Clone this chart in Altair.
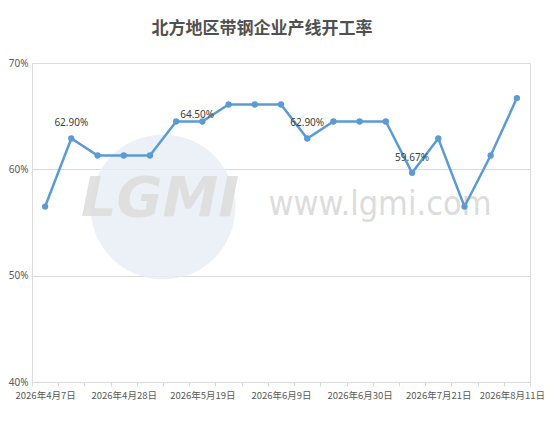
import json
import altair as alt
import pandas as pd

dates = ["2026年4月7日", "2026年4月14日", "2026年4月21日", "2026年4月28日",
         "2026年5月5日", "2026年5月12日", "2026年5月19日", "2026年5月26日",
         "2026年6月2日", "2026年6月9日", "2026年6月16日", "2026年6月23日",
         "2026年6月30日", "2026年7月7日", "2026年7月14日", "2026年7月21日",
         "2026年7月28日", "2026年8月4日", "2026年8月11日"]
rates = [56.5, 62.9, 61.3, 61.3, 61.3, 64.5, 64.5, 66.1, 66.1, 66.1,
         62.9, 64.5, 64.5, 64.5, 59.67, 62.9, 56.5, 61.3, 66.7]
shown_labels = dates[::3]
labeled_above = [1, 10, 14]
labeled_right = [5]

df = pd.DataFrame({
    "date": dates,
    "rate": [r / 100 for r in rates],
    "idx": list(range(len(dates))),
})

BLUE = "#5B9BD5"
FONT = "Noto Sans CJK SC"

label_expr = ("indexof(" + json.dumps(shown_labels, ensure_ascii=False)
              + ", datum.value) >= 0 ? datum.value : ''")
last_label = json.dumps(dates[-1], ensure_ascii=False)

x_enc = alt.X(
    "date:N", sort=dates,
    scale=alt.Scale(type="band", domain=dates, paddingInner=0, paddingOuter=0),
    bandPosition=0.5,
    axis=alt.Axis(title=None, labelAngle=0, tickBand="extent", labelExpr=label_expr,
                  labelOverlap=False, domainColor="#d9d9d9", tickColor="#d9d9d9",
                  tickSize=4, labelPadding=4, labelColor="#595959", labelFontSize=9.5,
                  labelFont=FONT, grid=False,
                  labelOffset={"condition": {"test": "datum.value == " + last_label, "value": -5},
                               "value": 0}),
)
y_enc = alt.Y(
    "rate:Q", scale=alt.Scale(domain=[0.4, 0.7]),
    axis=alt.Axis(title=None, format=".0%", values=[0.4, 0.5, 0.6, 0.7], domain=False,
                  ticks=False, gridColor="#d9d9d9", labelColor="#595959",
                  labelFontSize=10, labelPadding=4, labelFont="Noto Sans"),
)

base = alt.Chart(df)

# faint watermark (decoration)
wm_circle = alt.Chart(pd.DataFrame({"w": ["o"]})).mark_point(
    shape="circle", filled=True, color="#e6edf5", opacity=0.8, size=21000
).encode(x=alt.value(131), y=alt.value(144))
wm_logo = alt.Chart(pd.DataFrame({"w": ["LGMI"]})).mark_text(
    font="DejaVu Sans", fontSize=56, fontWeight="bold", fontStyle="italic",
    color="#dedede", opacity=0.9
).encode(text="w:N", x=alt.value(128), y=alt.value(136))
wm_site = alt.Chart(pd.DataFrame({"w": ["www.lgmi.com"]})).mark_text(
    font="DejaVu Sans Condensed", fontSize=34, color="#dcdcdc"
).encode(text="w:N", x=alt.value(348), y=alt.value(142))

line = base.mark_line(color=BLUE, strokeWidth=2.5).encode(x=x_enc, y=y_enc)
points = base.mark_point(filled=True, color=BLUE, size=40, opacity=1).encode(x=x_enc, y=y_enc)
labels_above = base.transform_filter(
    alt.FieldOneOfPredicate(field="idx", oneOf=labeled_above)
).mark_text(dy=-15, fontSize=10, color="#404040", font="Noto Sans").encode(
    x=x_enc, y=y_enc, text=alt.Text("rate:Q", format=".2%"))
labels_right = base.transform_filter(
    alt.FieldOneOfPredicate(field="idx", oneOf=labeled_right)
).mark_text(dx=21, dy=-6, fontSize=10, color="#404040", font="Noto Sans").encode(
    x=x_enc, y=y_enc, text=alt.Text("rate:Q", format=".2%"))

chart = alt.layer(wm_circle, wm_logo, wm_site, line, points, labels_above, labels_right).properties(
    width=498, height=319,
    autosize=alt.AutoSizeParams(type="none"),
    padding={"left": 24, "top": 55, "right": 16, "bottom": 33},
    title=alt.TitleParams("北方地区带钢企业产线开工率", font=FONT, fontSize=17,
                          fontWeight="bold", color="#505050", anchor="middle",
                          dx=-19, offset=20),
).configure_view(stroke=None).configure(background="white")

chart.save("out.html", embed_options={"renderer": "svg", "actions": False})
